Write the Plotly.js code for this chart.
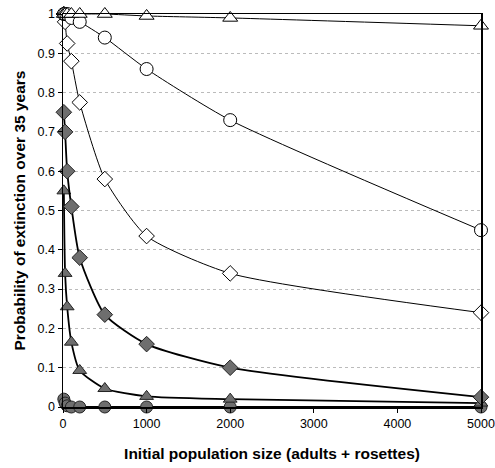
<!DOCTYPE html>
<html><head><meta charset="utf-8">
<script src="https://cdn.plot.ly/plotly-3.0.1.min.js"></script>
<style>html,body{margin:0;padding:0;background:#fff}#chart{width:495px;height:468px}</style>
</head><body><div id="chart"></div>
<script>
const popSize = [10, 25, 50, 100, 200, 500, 1000, 2000, 5000];
const openTriangle = [1, 1, 1, 1, 1, 1, 0.995, 0.99, 0.97];
const openCircle = [1, 1, 1, 0.99, 0.98, 0.94, 0.86, 0.73, 0.45];
const openDiamond = [1, 0.98, 0.925, 0.88, 0.775, 0.58, 0.435, 0.34, 0.24];
const filledDiamond = [0.75, 0.70, 0.60, 0.51, 0.38, 0.235, 0.16, 0.10, 0.025];
const filledTriangle = [0.55, 0.34, 0.255, 0.165, 0.093, 0.047, 0.027, 0.02, 0.01];
const filledCircle = [0.02, 0.01, 0.003, 0, 0, 0, 0, 0, 0];
const yTicks = [0, 0.1, 0.2, 0.3, 0.4, 0.5, 0.6, 0.7, 0.8, 0.9, 1];
const xTicks = [0, 1000, 2000, 3000, 4000, 5000];

function tr(y, symbol, filled, size, lw) {
  return {
    x: popSize, y: y, type: 'scatter', mode: 'lines+markers',
    line: {color: '#000', width: lw, shape: 'spline', smoothing: 0.6},
    marker: {symbol: symbol, size: size, color: filled ? '#6e6e6e' : '#fff',
             line: {color: filled ? '#222' : '#000', width: 1}},
    cliponaxis: false, showlegend: false
  };
}
const data = [
  tr(filledCircle, 'circle', true, 12, 1.8),
  tr(filledTriangle, 'triangle-up', true, 12, 1.8),
  tr(filledDiamond, 'diamond', true, 12, 1.8),
  tr(openDiamond, 'diamond', false, 12, 1),
  tr(openCircle, 'circle', false, 13, 1),
  tr(openTriangle, 'triangle-up', false, 13, 1)
];
const font = {family: 'Liberation Sans, Arial, sans-serif', size: 12.5, color: '#000'};
const layout = {
  width: 495, height: 468,
  margin: {l: 63, r: 14, t: 14, b: 61},
  paper_bgcolor: '#fff', plot_bgcolor: '#fff',
  font: font,
  xaxis: {
    range: [0, 5000], tickvals: xTicks, ticktext: xTicks.map(String),
    showgrid: false, zeroline: false, showline: true, linecolor: '#000', linewidth: 1.5,
    mirror: true, ticks: 'outside', ticklen: 4, tickcolor: '#000',
    tickfont: {family: font.family, size: 12.5},
    title: {text: '<b>Initial population size (adults + rosettes)</b>', font: {family: font.family, size: 15.5}, standoff: 18}
  },
  yaxis: {
    range: [0, 1], tickvals: yTicks, ticktext: yTicks.map(String),
    showgrid: true, gridcolor: '#bbb', griddash: 'dot', gridwidth: 1,
    zeroline: false, showline: true, linecolor: '#000', linewidth: 1.5,
    mirror: true, ticks: 'outside', ticklen: 4, tickcolor: '#000',
    tickfont: {family: font.family, size: 12.5},
    title: {text: '<b>Probability of extinction over 35 years</b>', font: {family: font.family, size: 15.5}, standoff: 8}
  }
};
Plotly.newPlot('chart', data, layout, {staticPlot: true, displayModeBar: false});
</script></body></html>
